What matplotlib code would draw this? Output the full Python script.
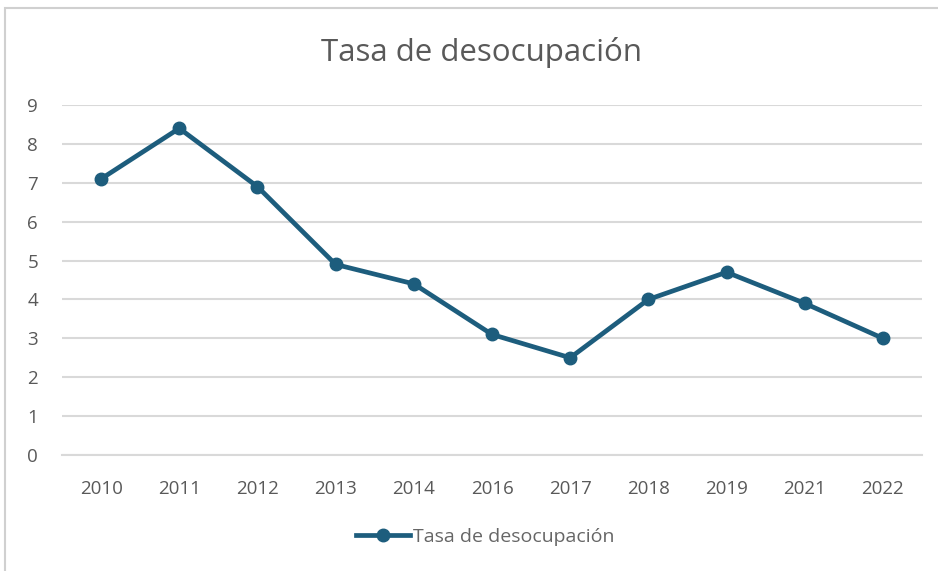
import matplotlib
matplotlib.use("Agg")
import matplotlib.pyplot as plt
from matplotlib.patches import Rectangle
from matplotlib.lines import Line2D

years = ["2010", "2011", "2012", "2013", "2014", "2016", "2017", "2018", "2019", "2021", "2022"]
values = [7.1, 8.4, 6.9, 4.9, 4.4, 3.1, 2.5, 4.0, 4.7, 3.9, 3.0]
yticks = [0, 1, 2, 3, 4, 5, 6, 7, 8, 9]
title = "Tasa de desocupación"
series_name = "Tasa de desocupación"

plt.rcParams['font.family'] = ['Open Sans', 'DejaVu Sans']

fig = plt.figure(figsize=(9.38, 5.71), dpi=100)
fig.patch.set_facecolor("white")

# chart border
fig.patches.append(Rectangle((5/938, -0.05), 1.2, (571-8)/571 + 0.05, transform=fig.transFigure,
                             fill=False, edgecolor="#D0D0D0", linewidth=1.5))

ax = fig.add_axes([62/938, 116/571, (922-62)/938, (455-105)/571])
color = "#1D5D7D"
x = list(range(len(years)))
ax.plot(x, values, color=color, linewidth=3.4, marker="o", markersize=9,
        solid_capstyle="round", label=series_name, zorder=3)

ax.set_xlim(-0.5, len(years) - 0.5)
ax.set_ylim(0, 9)
ax.set_yticks(yticks)
ax.set_yticklabels([str(t) for t in yticks])
ax.set_xticks(x)
ax.set_xticklabels(years)
ax.yaxis.grid(True, color="#D9D9D9", linewidth=1.5)
ax.set_axisbelow(True)
for s in ["top", "right", "left"]:
    ax.spines[s].set_visible(False)
ax.spines["bottom"].set_color("#D9D9D9")
ax.spines["bottom"].set_linewidth(1.5)
ax.tick_params(axis="both", length=0, colors="#595959", labelsize=13.5)
ax.tick_params(axis="x", pad=18)
ax.tick_params(axis="y", pad=25)
for lbl in ax.get_yticklabels():
    lbl.set_horizontalalignment("left")

fig.text(481/938, 1 - 53/571, title, ha="center", va="center", fontsize=22.5, color="#595959")

handle = Line2D([0], [0], color=color, linewidth=3.4, marker="o", markersize=9)
leg = fig.legend([handle], [series_name], loc="center", bbox_to_anchor=(485/938, 1 - 537/571),
                 frameon=False, fontsize=14, handlelength=2.8, handletextpad=0.15)
for t in leg.get_texts():
    t.set_color("#666666")

fig.savefig("out.png", dpi=100, facecolor="white")
